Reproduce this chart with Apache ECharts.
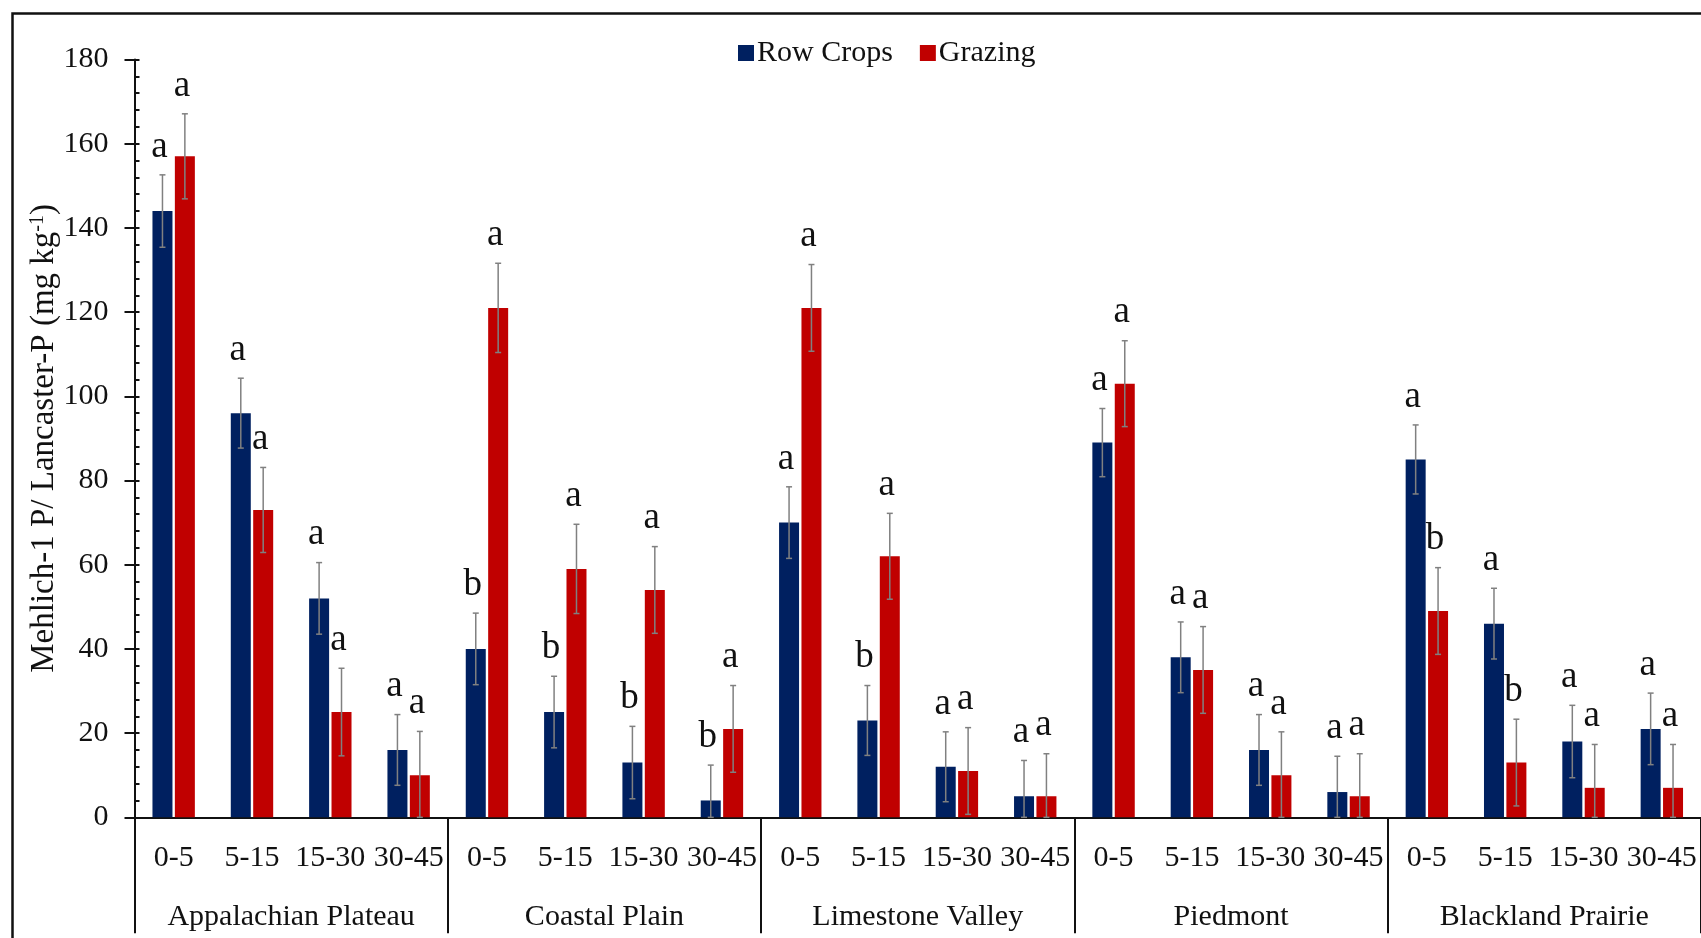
<!DOCTYPE html>
<html>
<head>
<meta charset="utf-8">
<script src="https://cdn.jsdelivr.net/npm/echarts@6/dist/echarts.min.js"></script>
<style>
  html, body { margin: 0; padding: 0; background: #fff; }
  #chart { width: 1701px; height: 938px; }
</style>
</head>
<body>
<div id="chart"></div>
<script>
const regions = ['Appalachian Plateau', 'Coastal Plain', 'Limestone Valley', 'Piedmont', 'Blackland Prairie'];
const depths = ['0-5', '5-15', '15-30', '30-45'];
const seriesNames = ['Row Crops', 'Grazing'];

const rowCrops = [144, 96, 52, 16, 40, 25, 13, 4, 70, 23, 12, 5, 89, 38, 16, 6, 85, 46, 18, 21];
const grazing = [157, 73, 25, 10, 121, 59, 54, 21, 121, 62, 11, 5, 103, 35, 10, 5, 49, 13, 7, 7];
const rowCropsErr = [8.6, 8.3, 8.5, 8.4, 8.5, 8.5, 8.6, 8.4, 8.5, 8.3, 8.3, 8.5, 8.1, 8.4, 8.4, 8.5, 8.2, 8.4, 8.6, 8.5];
const grazingErr = [10.1, 10.1, 10.4, 10.4, 10.6, 10.6, 10.3, 10.3, 10.3, 10.2, 10.3, 10.1, 10.2, 10.3, 10.3, 10.1, 10.3, 10.3, 10.3, 10.3];
const rowCropsLetters = ['a','a','a','a','b','b','b','b','a','b','a','a','a','a','a','a','a','a','a','a'];
const grazingLetters = ['a','a','a','a','a','a','a','a','a','a','a','a','a','a','a','a','b','b','a','a'];

const yMin = 0, yMax = 180, yStep = 20;

const FONT = '"Liberation Serif", "Times New Roman", serif';
const NAVY = '#002060';
const RED = '#C00000';

// categories: region|depth
const categories = [];
regions.forEach(r => depths.forEach(d => categories.push(r + '|' + d)));

const BAR_W = 20;
const BAR_GAP = 0.12;
const HALF = (BAR_W + BAR_W * BAR_GAP) / 2;

function errRenderer(sign, letters) {
  return function (params, api) {
    const i = api.value(0), v = api.value(1), e = api.value(2);
    const base = api.coord([i, v]);
    const x = base[0] + sign * HALF;
    const yTop = api.coord([i, v + e])[1];
    const yBot = api.coord([i, Math.max(0, v - e)])[1];
    const st = { stroke: '#808080', lineWidth: 1.5 };
    return {
      type: 'group',
      children: [
        { type: 'line', shape: { x1: x, y1: yTop, x2: x, y2: yBot }, style: st },
        { type: 'line', shape: { x1: x - 3, y1: yTop, x2: x + 3, y2: yTop }, style: st },
        { type: 'line', shape: { x1: x - 3, y1: yBot, x2: x + 3, y2: yBot }, style: st },
        {
          type: 'text', x: x - 3, y: yTop - 28,
          style: {
            text: letters[params.dataIndex], fill: '#111',
            fontSize: 37, fontFamily: FONT, align: 'center', verticalAlign: 'middle'
          }
        }
      ]
    };
  };
}

const chart = echarts.init(document.getElementById('chart'), null, { renderer: 'canvas' });

const option = {
  backgroundColor: '#fff',
  animation: false,
  textStyle: { fontFamily: FONT },
  graphic: [{
    type: 'rect', left: 10, top: 11,
    shape: { width: 1800, height: 1000 },
    style: { fill: 'none', stroke: '#111', lineWidth: 2.5 },
    z: 100
  }],
  legend: {
    data: seriesNames,
    left: 733, top: 33,
    itemWidth: 16, itemHeight: 16, itemGap: 27,
    icon: 'rect',
    textStyle: { fontFamily: FONT, fontSize: 30, color: '#111', padding: [0, 0, 0, -2] }
  },
  grid: { left: 134.5, right: -1, top: 59.5, bottom: 120.7, containLabel: false },
  xAxis: [
    {
      type: 'category', data: categories, position: 'bottom',
      axisLine: { show: true, lineStyle: { color: '#111', width: 2 } },
      axisTick: { show: false },
      axisLabel: {
        interval: 0, margin: 26, fontFamily: FONT, fontSize: 30, color: '#111',
        formatter: v => v.split('|')[1]
      }
    },
    {
      type: 'category', data: regions, position: 'bottom',
      axisLine: { show: false },
      axisTick: { show: true, length: 116, interval: 0, lineStyle: { color: '#111', width: 2 } },
      axisLabel: { interval: 0, margin: 85, fontFamily: FONT, fontSize: 30, color: '#111' }
    }
  ],
  yAxis: [
    {
      type: 'value', min: yMin, max: yMax, interval: yStep, position: 'left',
      name: 'Mehlich-1 P/ Lancaster-P (mg kg{sup|-1})',
      nameLocation: 'middle', nameGap: 74, nameMoveOverlap: false,
      nameTextStyle: {
        fontFamily: FONT, fontSize: 33, color: '#111',
        rich: { sup: { fontFamily: FONT, fontSize: 20, color: '#111', verticalAlign: 'top', lineHeight: 33, padding: [0, 0, 14, 0] } }
      },
      axisLine: { show: true, lineStyle: { color: '#111', width: 2 } },
      axisTick: { show: true, inside: true, length: 5, lineStyle: { color: '#111', width: 2 } },
      minorTick: { show: true, splitNumber: 5, length: 5, lineStyle: { color: '#111', width: 2 } },
      splitLine: { show: false },
      axisLabel: { margin: 26, fontFamily: FONT, fontSize: 30, color: '#111' }
    },
    {
      type: 'value', min: yMin, max: yMax, interval: yStep, position: 'left', offset: 0,
      axisLine: { show: false },
      axisTick: { show: true, inside: false, length: 10, lineStyle: { color: '#111', width: 2 } },
      axisLabel: { show: false },
      splitLine: { show: false }
    }
  ],
  series: [
    {
      name: seriesNames[0], type: 'bar', xAxisIndex: 0, yAxisIndex: 0,
      data: rowCrops, barWidth: BAR_W, barGap: (BAR_GAP * 100) + '%',
      itemStyle: { color: NAVY }
    },
    {
      name: seriesNames[1], type: 'bar', xAxisIndex: 0, yAxisIndex: 0,
      data: grazing, barWidth: BAR_W, barGap: (BAR_GAP * 100) + '%',
      itemStyle: { color: RED }
    },
    {
      type: 'custom', xAxisIndex: 0, yAxisIndex: 0, z: 10,
      renderItem: errRenderer(-1, rowCropsLetters),
      data: rowCrops.map((v, i) => [i, v, rowCropsErr[i]]),
      encode: { x: 0, y: 1 }, silent: true
    },
    {
      type: 'custom', xAxisIndex: 0, yAxisIndex: 0, z: 10,
      renderItem: errRenderer(1, grazingLetters),
      data: grazing.map((v, i) => [i, v, grazingErr[i]]),
      encode: { x: 0, y: 1 }, silent: true
    }
  ]
};

chart.setOption(option);
</script>
</body>
</html>
